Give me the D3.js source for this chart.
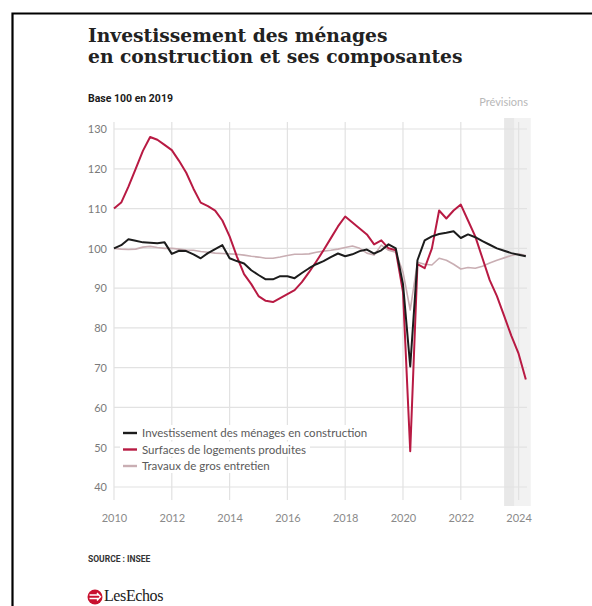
<!DOCTYPE html>
<html>
<head>
<meta charset="utf-8">
<script src="https://cdn.jsdelivr.net/npm/d3@7/dist/d3.min.js"></script>
<style>
  html, body { margin: 0; padding: 0; background: #fff; }
  svg { display: block; }
</style>
</head>
<body>
<svg id="chart" width="592" height="606"></svg>
<script>
// Quarterly series, 2010 Q1 to 2024 Q2, base 100 in 2019
const startYear = 2010;
const investissement = [
  100, 100.8, 102.3, 101.9, 101.5, 101.4, 101.3, 101.5,
  98.6, 99.4, 99.3, 98.5, 97.5, 98.8, 99.8, 100.8,
  97.5, 96.8, 96.2, 94.5, 93.3, 92.2, 92.2, 93,
  93, 92.5, 93.8, 95, 96, 96.8, 97.8, 98.7,
  98, 98.5, 99.3, 99.7, 98.7, 99.5, 101, 100,
  91, 70.3, 97, 102, 103, 103.6, 103.9, 104.3,
  102.6, 103.5, 102.8, 101.8, 100.9, 100, 99.4, 98.8,
  98.4, 98
];
const surfaces = [
  110, 111.5, 115.5, 120, 124.5, 128, 127.3, 126,
  124.7, 122, 119, 115, 111.5, 110.6, 109.5, 107,
  103, 98, 93.5, 91, 88, 86.8, 86.5, 87.5,
  88.5, 89.5, 91.5, 94, 96.7, 99.5, 102.5, 105.5,
  108, 106.5, 105, 103.5, 101, 102, 100, 99.5,
  89, 49, 96, 95, 100, 109.5, 107.5, 109.5,
  111, 107, 103, 97.5, 92, 88, 83, 78,
  73.5, 67
];
const grosEntretien = [
  100, 99.8, 99.7, 99.8, 100.3, 100.5, 100.2, 100,
  100, 99.8, 99.6, 99.5, 99.2, 99, 98.8, 98.7,
  98.6, 98.5, 98.3, 98, 97.8, 97.5, 97.5, 97.8,
  98.2, 98.5, 98.5, 98.6, 99, 99.3, 99.5, 99.8,
  100.2, 100.6, 100, 98.8, 98.3, 100.8, 99.5, 99,
  94, 84.5, 96.5, 96, 95.8, 97.5, 97, 96,
  94.8, 95.2, 95, 95.5, 96.3, 97, 97.6, 98.2,
  98.6, 98.2
];
const yTicks = [40, 50, 60, 70, 80, 90, 100, 110, 120, 130];
const xTicks = [2010, 2012, 2014, 2016, 2018, 2020, 2022, 2024];
const forecastStart = 2023.5;
const forecastEnd = 2024.42;

const seriesList = [
  { name: "Travaux de gros entretien", values: grosEntretien, color: "#c9aeb3", width: 1.6 },
  { name: "Surfaces de logements produites", values: surfaces, color: "#b81a43", width: 2 },
  { name: "Investissement des ménages en construction", values: investissement, color: "#1c1c1c", width: 2 }
];
const legendOrder = [2, 1, 0];

const svg = d3.select("#chart");

// Frame
svg.append("path")
  .attr("d", "M12.5,606 L12.5,13.5 L592,13.5")
  .attr("fill", "none").attr("stroke", "#000").attr("stroke-width", 2.2);

// Titles
const title = svg.append("text")
  .attr("x", 88).attr("y", 42)
  .attr("font-family", "'DejaVu Serif', serif")
  .attr("font-weight", "bold").attr("font-size", 18.7)
  .attr("fill", "#222");
title.append("tspan").attr("x", 88).attr("y", 42).text("Investissement des ménages");
title.append("tspan").attr("x", 88).attr("y", 63).text("en construction et ses composantes");

svg.append("text")
  .attr("x", 88).attr("y", 102)
  .attr("font-family", "Roboto, sans-serif").attr("font-weight", "bold")
  .attr("font-size", 10.5).attr("fill", "#1a1a1a")
  .text("Base 100 en 2019");

// Scales
const x = d3.scaleLinear().domain([2010, 2024]).range([114, 518.6]);
const y = d3.scaleLinear().domain([40, 130]).range([487, 129]);

// Forecast band
const band = svg.append("g");
band.append("rect")
  .attr("x", x(forecastStart)).attr("y", 118)
  .attr("width", x(forecastEnd) - x(forecastStart)).attr("height", 388)
  .attr("fill", "#f2f2f2");
band.append("rect")
  .attr("x", x(forecastStart)).attr("y", 118)
  .attr("width", 10).attr("height", 388)
  .attr("fill", "#e8e8e8");

svg.append("text")
  .attr("x", 528).attr("y", 106)
  .attr("text-anchor", "end")
  .attr("font-family", "Lato, sans-serif").attr("font-size", 11)
  .attr("fill", "#b8b8b8")
  .text("Prévisions");

// Grid
const grid = svg.append("g");
grid.selectAll("line.h").data(yTicks).join("line")
  .attr("class", "h")
  .attr("x1", 114).attr("x2", 527)
  .attr("y1", d => y(d)).attr("y2", d => y(d))
  .attr("stroke", "#e2e2e2").attr("stroke-width", 1.2);
grid.selectAll("line.v").data(xTicks).join("line")
  .attr("class", "v")
  .attr("x1", d => x(d)).attr("x2", d => x(d))
  .attr("y1", 122).attr("y2", 500)
  .attr("stroke", "#e2e2e2").attr("stroke-width", 1.2);

// Axes labels
const yAxis = d3.axisLeft(y).tickValues(yTicks).tickSize(0).tickPadding(0);
const gy = svg.append("g").attr("transform", "translate(107,0)").call(yAxis);
gy.select(".domain").remove();
gy.selectAll("text")
  .attr("font-family", "Lato, sans-serif").attr("font-size", 11)
  .attr("fill", "#7a7a7a").attr("dy", "0.35em");

const xAxis = d3.axisBottom(x).tickValues(xTicks).tickFormat(d3.format("d")).tickSize(0).tickPadding(0);
const gx = svg.append("g").attr("transform", "translate(0,514)").call(xAxis);
gx.select(".domain").remove();
gx.selectAll("text")
  .attr("font-family", "Lato, sans-serif").attr("font-size", 11)
  .attr("fill", "#8a8a8a").attr("dy", "0.71em");

// Lines
const line = d3.line()
  .x((d, i) => x(startYear + i * 0.25))
  .y(d => y(d));

svg.append("g").selectAll("path").data(seriesList).join("path")
  .attr("d", s => line(s.values))
  .attr("fill", "none")
  .attr("stroke", s => s.color)
  .attr("stroke-width", s => s.width)
  .attr("stroke-linejoin", "round");

// Legend
const legend = svg.append("g");
legendOrder.forEach((k, row) => {
  const s = seriesList[k];
  const ly = 433 + row * 16.5;
  const g = legend.append("g");
  const t = g.append("text")
    .attr("x", 142).attr("y", ly).attr("dy", "0.35em")
    .attr("font-family", "Lato, sans-serif").attr("font-size", 11.5)
    .attr("fill", "#5a5a5a")
    .text(s.name);
  const bb = t.node().getBBox();
  g.insert("rect", "text")
    .attr("x", 120).attr("y", bb.y - 1)
    .attr("width", bb.x + bb.width - 120 + 4).attr("height", bb.height + 2)
    .attr("fill", "#fff");
  g.append("line")
    .attr("x1", 123).attr("x2", 137)
    .attr("y1", ly).attr("y2", ly)
    .attr("stroke", s.color).attr("stroke-width", 2.4);
});

// Source
svg.append("text")
  .attr("x", 88).attr("y", 562)
  .attr("font-family", "Roboto, sans-serif").attr("font-weight", "bold")
  .attr("font-size", 8.5).attr("fill", "#333")
  .text("SOURCE : INSEE");

// Brand mark
const logo = svg.append("g");
logo.append("circle").attr("cx", 95).attr("cy", 597).attr("r", 7.5).attr("fill", "#c8102e");
logo.append("path")
  .attr("d", "M89.5,595 L99,595 M89.5,598.5 L99,598.5 M97,593 L100.5,596.8 L97,600.5")
  .attr("stroke", "#fff").attr("stroke-width", 1.4).attr("fill", "none");
logo.append("text")
  .attr("x", 104).attr("y", 601)
  .attr("font-family", "'Liberation Serif', serif")
  .attr("font-size", 16).attr("fill", "#1a1a1a")
  .attr("letter-spacing", -0.4)
  .text("LesEchos");
</script>
</body>
</html>
